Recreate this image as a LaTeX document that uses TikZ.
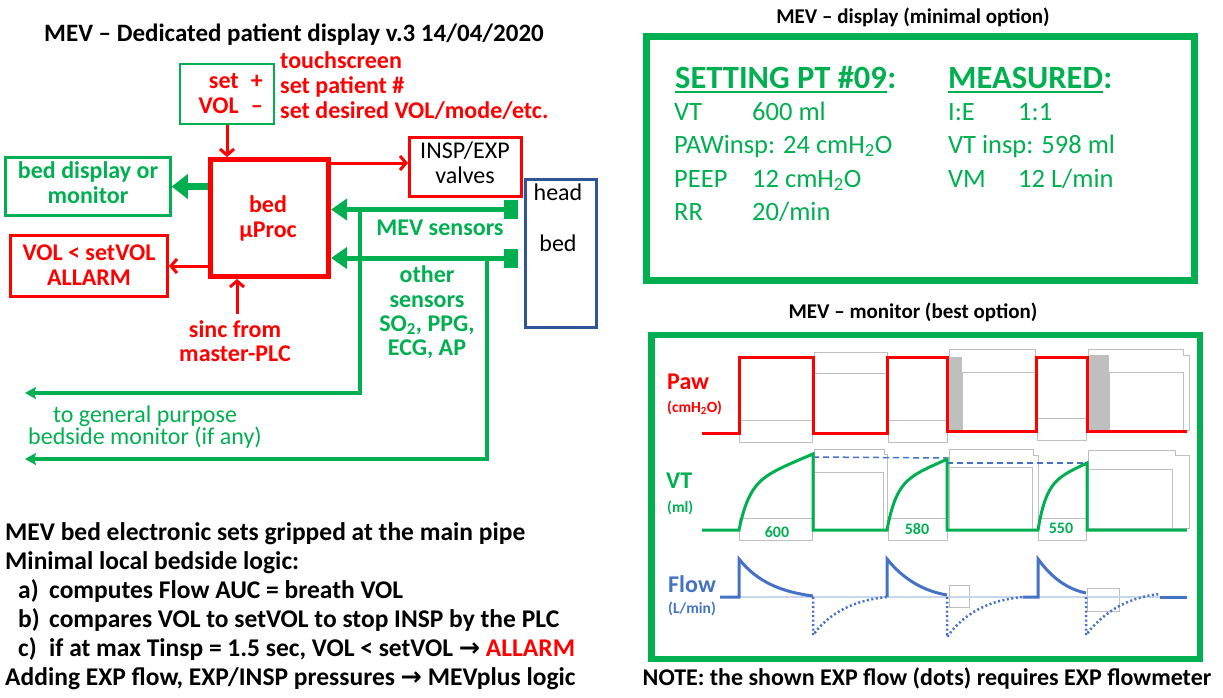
\documentclass[tikz,border=0pt]{standalone}
\usepackage{fontspec}
\setmainfont{Carlito}
\usetikzlibrary{arrows.meta}
\definecolor{mred}{HTML}{FF0000}
\definecolor{mgreen}{HTML}{00B050}
\definecolor{mblue}{HTML}{4472C4}
\definecolor{mnavy}{HTML}{2F5597}
\definecolor{mgray}{HTML}{BFBFBF}
\begin{document}
\begin{tikzpicture}[x=1pt,y=-1pt,
  every node/.style={inner sep=0pt},
  tb/.style={font=\fontsize{24}{25}\selectfont\bfseries},
  tbl/.style={font=\fontsize{25.5}{27}\selectfont\bfseries},
  tr/.style={font=\fontsize{24}{25}\selectfont},
  rt/.style={tb, text=mred},
  gt/.style={tb, text=mgreen},
  ht/.style={font=\fontsize{21}{23}\selectfont\bfseries},
  dh/.style={font=\fontsize{32.5}{34}\selectfont\bfseries, text=mgreen},
  dt/.style={font=\fontsize{26.5}{28}\selectfont, text=mgreen},
  sm/.style={font=\fontsize{15.5}{16}\selectfont\bfseries},
  nb/.style={font=\fontsize{16}{17}\selectfont\bfseries, text=mgreen},
  redarr/.style={draw=mred, line width=3pt, -{Straight Barb[length=6pt,width=14pt]}},
  grbig/.style={draw=mgreen, line width=7pt, -{Triangle[length=16pt,width=24pt]}},
  grsens/.style={draw=mgreen, line width=5pt, -{Triangle[length=16pt,width=21pt]}},
  grline/.style={draw=mgreen, line width=3.5pt, -{Stealth[length=11pt,width=12pt,inset=2pt]}},
  grayr/.style={draw=mgray, line width=0.8pt},
  flowl/.style={draw=mblue, line width=3pt},
  fdot/.style={draw=mblue, line width=2.5pt, dash pattern=on 2pt off 2.5pt},
]
\useasboundingbox (0,0) rectangle (1223,697);

% ---------------- left diagram ----------------
\node[font=\fontsize{25}{26}\selectfont\bfseries, anchor=base] (title) at (294,41) {MEV – Dedicated patient display v.3 14/04/2020};

\node[draw=mgreen, line width=2.5pt, minimum width=94pt, minimum height=60pt] (setbox) at (227,94) {};
\node[rt, anchor=base east] (setw) at (239,88) {set};
\node[rt, anchor=base east] (plus) at (263,88) {+};
\node[rt, anchor=base east] (volw) at (239,113) {VOL};
\node[rt, anchor=base east] (minus) at (263,113) {–};

\node[rt, anchor=base west] (ts1) at (280,68) {touchscreen};
\node[rt, anchor=base west] (ts2) at (280,93) {set patient \#};
\node[rt, anchor=base west] (ts3) at (280,118) {set desired VOL/mode/etc.};

\node[draw=mred, line width=5pt, minimum width=118pt, minimum height=117pt] (bedbox) at (269.5,218) {};
\node[rt, anchor=base] (bedt1) at (268,212) {bed};
\node[rt, anchor=base] (bedt2) at (268,237) {µProc};

\node[draw=mgreen, line width=2.5pt, minimum width=165pt, minimum height=58pt] (beddisp) at (88,186.5) {};
\node[gt, anchor=base] (bd1) at (88,178) {bed display or};
\node[gt, anchor=base] (bd2) at (88,203) {monitor};

\node[draw=mred, line width=3pt, minimum width=157pt, minimum height=61pt] (alarm) at (89,266) {};
\node[rt, anchor=base] (al1) at (89,260) {VOL < setVOL};
\node[rt, anchor=base] (al2) at (89,285) {ALLARM};

\node[rt, anchor=base] (sinc1) at (235,337) {sinc from};
\node[rt, anchor=base] (sinc2) at (235,361) {master-PLC};

\node[draw=mred, line width=3pt, minimum width=112pt, minimum height=59pt] (insp) at (465.5,167) {};
\node[tr, anchor=base] (in1) at (465,158) {INSP/EXP};
\node[tr, anchor=base] (in2) at (465,183) {valves};

\node[draw=mnavy, line width=3pt, minimum width=71pt, minimum height=148pt] (head) at (560.5,253) {};
\node[tr, anchor=base] (hd1) at (558,200) {head};
\node[tr, anchor=base] (hd2) at (558,251) {bed};

\node[fill=mgreen, minimum width=14pt, minimum height=19pt] (sq1) at (511,209.5) {};
\node[fill=mgreen, minimum width=14pt, minimum height=19pt] (sq2) at (511,258) {};

\node[gt, anchor=base] (mevs) at (440,235) {MEV sensors};
\node[gt, anchor=base] (os1) at (427,282) {other};
\node[gt, anchor=base] (os2) at (427,307) {sensors};
\node[gt, anchor=base] (os3) at (427,331) {SO\textsubscript{2}, PPG,};
\node[gt, anchor=base] (os4) at (427,355) {ECG, AP};

\node[tr, text=mgreen, anchor=base] (gp1) at (145,422) {to general purpose};
\node[tr, text=mgreen, anchor=base] (gp2) at (145,444) {bedside monitor (if any)};

\coordinate (j1) at (360,209.5);
\coordinate (j2) at (487,258);
\coordinate (e1) at (25,393);
\coordinate (e2) at (25,459);

\draw[redarr] (setbox.south) -- (setbox.south |- bedbox.north);
\draw[grbig] (bedbox.west |- beddisp.east) -- (beddisp.east);
\draw[redarr] (bedbox.west |- alarm.east) -- (alarm.east);
\draw[redarr] (sinc1.north -| 237,0) ++(0,-6) -- (237,0 |- bedbox.south);
\draw[redarr] (bedbox.east |- 0,163) -- (insp.west |- 0,163);
\draw[grsens] (sq1.west) -- (bedbox.east |- sq1.west);
\draw[grsens] (sq2.west) -- (bedbox.east |- sq2.west);
\draw[grline] (j1) |- (e1);
\draw[grline] (j2) |- (e2);

% bottom-left text
\node[tbl, anchor=base west] (bl1) at (5,540) {MEV bed electronic sets gripped at the main pipe};
\node[tbl, anchor=base west] (bl2) at (5,569) {Minimal local bedside logic:};
\node[tbl, anchor=base west] (bl3a) at (18,598) {a)};
\node[tbl, anchor=base west] (bl3) at (49,598) {computes Flow AUC = breath VOL};
\node[tbl, anchor=base west] (bl4a) at (18,627) {b)};
\node[tbl, anchor=base west] (bl4) at (49,627) {compares VOL to setVOL to stop INSP by the PLC};
\node[tbl, anchor=base west] (bl5a) at (18,656) {c)};
\node[tbl, anchor=base west] (bl5) at (49,656) {if at max Tinsp = 1.5 sec, VOL < setVOL {\fontspec{DejaVu Sans}\bfseries→} \textcolor{mred}{ALLARM}};
\node[tbl, anchor=base west] (bl6) at (5,685) {Adding EXP flow, EXP/INSP pressures {\fontspec{DejaVu Sans}\bfseries→} MEVplus logic};

% ---------------- right: display ----------------
\node[ht, anchor=base] (dtitle) at (913,23) {MEV – display (minimal option)};
\node[draw=mgreen, line width=7pt, minimum width=548pt, minimum height=243.5pt] (dispbox) at (920,158.25) {};
\node[dh, anchor=base west] (sethd) at (675,88) {SETTING PT \#09};
\node[dh, anchor=base west] (setcol) at (sethd.base east) {:};
\draw[mgreen, line width=2.5pt] ([yshift=-4pt]sethd.base west) -- ([yshift=-4pt]sethd.base east);
\node[dh, anchor=base west] (meshd) at (948,88) {MEASURED};
\node[dh, anchor=base west] (mescol) at (meshd.base east) {:};
\draw[mgreen, line width=2.5pt] ([yshift=-4pt]meshd.base west) -- ([yshift=-4pt]meshd.base east);

\node[dt, anchor=base west] (d1a) at (674,120) {VT};
\node[dt, anchor=base west] (d1b) at (752,120) {600 ml};
\node[dt, anchor=base west] (d2a) at (674,153) {PAWinsp: 24 cmH\textsubscript{2}O};
\node[dt, anchor=base west] (d3a) at (674,187) {PEEP};
\node[dt, anchor=base west] (d3b) at (752,187) {12 cmH\textsubscript{2}O};
\node[dt, anchor=base west] (d4a) at (674,220) {RR};
\node[dt, anchor=base west] (d4b) at (752,220) {20/min};
\node[dt, anchor=base west] (m1a) at (948,120) {I:E};
\node[dt, anchor=base west] (m1b) at (1018,120) {1:1};
\node[dt, anchor=base west] (m2a) at (948,153) {VT insp: 598 ml};
\node[dt, anchor=base west] (m3a) at (948,187) {VM};
\node[dt, anchor=base west] (m3b) at (1018,187) {12 L/min};

% ---------------- right: monitor ----------------
\node[ht, anchor=base] (mtitle) at (913,318) {MEV – monitor (best option)};
\node[draw=mgreen, line width=6.5pt, minimum width=548.5pt, minimum height=324pt] (monbox) at (925.75,497) {};

\node[tb, text=mred, anchor=base west] (pawl) at (667,389) {Paw};
\node[sm, text=mred, anchor=base west] (pawu) at (667,412) {(cmH\textsubscript{2}O)};
\node[tb, text=mgreen, anchor=base west] (vtl) at (666,488) {VT};
\node[sm, text=mgreen, anchor=base west] (vtu) at (667,512) {(ml)};
\node[tb, text=mblue, anchor=base west] (flowlab) at (668,592) {Flow};
\node[sm, text=mblue, anchor=base west] (flowu) at (668,613) {(L/min)};

% gray overlay boxes
\fill[mgray] (949,357) rectangle (962,431);
\fill[mgray] (1088,355) rectangle (1109,430);
\draw[grayr] (739,420) rectangle (812,442);
\draw[grayr] (814,352) rectangle (887,433);
\draw[grayr] (814,373) -- (887,373);
\draw[grayr] (888,420) rectangle (947,442);
\draw[grayr] (949,349) rectangle (1035,431);
\draw[grayr] (962,372) rectangle (1035,431);
\draw[grayr] (1037,418) rectangle (1086,440);
\draw[grayr] (1088,349) -- (1183,349) -- (1183,355) -- (1189,355) -- (1189,430) -- (1088,430) -- cycle;
\draw[grayr] (1109,372) rectangle (1183,430);

\draw[grayr] (739,518) rectangle (812,540);
\draw[grayr] (814,449) -- (884,449) -- (884,454) -- (887,454) -- (887,530) -- (814,530) -- cycle;
\draw[grayr] (814,472) rectangle (883,530);
\draw[grayr] (888,518) rectangle (947,540);
\draw[grayr] (949,449) -- (1033,449) -- (1033,455) -- (1038,455) -- (1038,530) -- (949,530) -- cycle;
\draw[grayr] (949,467) rectangle (1032,530);
\draw[grayr] (1038,518) rectangle (1086,540);
\draw[grayr] (1088,450) -- (1175,450) -- (1175,455) -- (1189,455) -- (1189,528) -- (1088,528) -- cycle;
\draw[grayr] (1088,469) rectangle (1172,530);

\draw[grayr] (949,585) rectangle (969,607);
\draw[grayr] (1087,588) rectangle (1119,611);

\node[nb, anchor=base] (n600) at (777,537) {600};
\node[nb, anchor=base] (n580) at (917,534) {580};
\node[nb, anchor=base] (n550) at (1061,533) {550};

% Paw trace
\draw[mred, line width=3pt] (702,433) -- (739,433) -- (739,357) -- (813,357) -- (813,433) -- (887,433) -- (887,357) -- (947,357) -- (947,431) -- (1036,431) -- (1036,357) -- (1087,357) -- (1087,431) -- (1187,431);

% VT trace
\draw[mblue, line width=1.5pt, dash pattern=on 6pt off 4pt] (813,457) -- (947,458);
\draw[mblue, line width=1.5pt, dash pattern=on 6pt off 4pt] (947,463) -- (1087,463);
\draw[mgreen, line width=3pt] (702,530) -- (739,530)
  -- plot[domain=0:74, samples=40] ({739+\x},{530-45*(1-exp(-\x/10))-0.42*\x})
  -- (813,530) -- (887,530)
  -- plot[domain=0:60, samples=40] ({887+\x},{530-45*(1-exp(-\x/9))-0.43*\x})
  -- (947,530) -- (1038,530)
  -- plot[domain=0:49, samples=40] ({1038+\x},{530-45*(1-exp(-\x/8))-0.45*\x})
  -- (1087,530) -- (1187,530);

% Flow trace
\draw[mblue!30, line width=2pt] (720,597) -- (1187,597);
\draw[flowl] (720,597) -- (739,597) -- (739,559) .. controls (758,583) and (783,592) .. (813,596);
\draw[flowl] (887,597) -- (887,559) .. controls (904,580) and (924,591) .. (947,595);
\draw[flowl] (1023,597) -- (1038,597) -- (1038,559) .. controls (1052,578) and (1067,589) .. (1086,593);
\draw[flowl] (1160,597) -- (1187,597);
\draw[fdot] (813,597) -- (813,635) .. controls (830,612) and (855,600) .. (887,597);
\draw[fdot] (947,597) -- (947,637) .. controls (965,612) and (990,600) .. (1023,597);
\draw[fdot] (1086,597) -- (1086,635) .. controls (1105,610) and (1130,597) .. (1160,594);

\node[tb, anchor=base] (note) at (927,685) {NOTE: the shown EXP flow (dots) requires EXP flowmeter};
\end{tikzpicture}
\end{document}
